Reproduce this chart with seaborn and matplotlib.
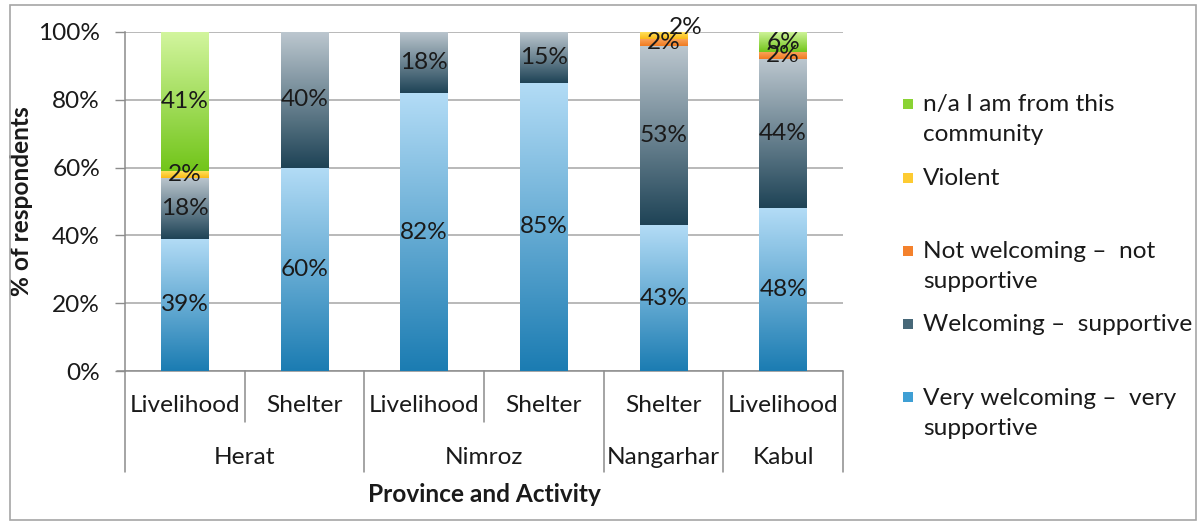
import numpy as np
import pandas as pd
import matplotlib
matplotlib.use("Agg")
import matplotlib.pyplot as plt
import matplotlib.transforms as mtransforms
from matplotlib.patches import Rectangle
from matplotlib.colors import LinearSegmentedColormap
import seaborn as sns

# ---- data -------------------------------------------------------------
provinces = ["Herat", "Herat", "Nimroz", "Nimroz", "Nangarhar", "Kabul"]
activities = ["Livelihood", "Shelter", "Livelihood", "Shelter", "Shelter", "Livelihood"]

very_welcoming = [39, 60, 82, 85, 43, 48]
welcoming = [18, 40, 18, 15, 53, 44]
not_welcoming = [0, 0, 0, 0, 2, 2]
violent = [2, 0, 0, 0, 2, 0]
from_community = [41, 0, 0, 0, 0, 6]

series_names = [
    "Very welcoming \u2013  very\nsupportive",
    "Welcoming \u2013  supportive",
    "Not welcoming \u2013  not\nsupportive",
    "Violent",
    "n/a I am from this\ncommunity",
]
series_values = [very_welcoming, welcoming, not_welcoming, violent, from_community]

# top / bottom colours of each gradient fill
grad_colors = [
    ("#b3dcf6", "#1b7cb2"),
    ("#bcc7cf", "#1e4356"),
    ("#f9a259", "#f07a20"),
    ("#ffe15a", "#fbb917"),
    ("#d2f59e", "#72c51a"),
]
swatch_colors = ["#3f9fd4", "#476878", "#f4812c", "#fdcb32", "#8ad334"]

# ---- style ------------------------------------------------------------
sns.set_theme(style="white")
plt.rcParams["font.family"] = ["Lato", "DejaVu Sans"]
FS = 17.6
TXT = "#1a1a1a"

fig = plt.figure(figsize=(12.03, 5.24), dpi=100)
ax = fig.add_axes([125 / 1203, 1 - 371 / 524, (843 - 125) / 1203, (371 - 32) / 524])

keys = [f"{p} {a}" for p, a in zip(provinces, activities)]
bottoms = np.zeros(len(keys))
drawn = []
for name, vals, (c_top, c_bot) in zip(series_names, series_values, grad_colors):
    vals = np.asarray(vals, dtype=float)
    df = pd.DataFrame({"key": keys, "value": vals})
    n_before = len(ax.patches)
    sns.barplot(data=df, x="key", y="value", bottom=bottoms, width=0.4,
                color=c_bot, saturation=1, linewidth=0, ax=ax, zorder=3)
    new_patches = ax.patches[n_before:]
    drawn.append((vals, bottoms.copy(), new_patches, c_top, c_bot))
    bottoms = bottoms + vals

# vertical gradient inside each bar segment
for vals, bots, patches, c_top, c_bot in drawn:
    cmap = LinearSegmentedColormap.from_list("g", [c_bot, c_top])
    grad = np.linspace(0, 1, 256).reshape(-1, 1)
    for v, p in zip(vals, patches):
        if v <= 0:
            continue
        x0, y0 = p.get_x(), p.get_y()
        w, h = p.get_width(), p.get_height()
        im = ax.imshow(grad, cmap=cmap, origin="lower", aspect="auto",
                       extent=(x0, x0 + w, y0, y0 + h), zorder=4,
                       interpolation="bilinear")
        im.set_clip_path(p)
ax.set_xlim(-0.5, len(keys) - 0.5)
ax.set_ylim(0, 100)

# value labels centred in each segment
for si, (vals, bots, patches, c_top, c_bot) in enumerate(drawn):
    for i, (v, b) in enumerate(zip(vals, bots)):
        if v <= 0:
            continue
        dx, dy = 0, 0
        if si == 3 and provinces[i] == "Nangarhar":
            dx, dy = 22, 8
        ax.annotate(f"{v:.0f}%", (i, b + v / 2), xytext=(dx, dy),
                    textcoords="offset pixels", ha="center", va="center",
                    fontsize=FS, color=TXT, zorder=6)

# axes styling
ax.set_yticks(np.arange(0, 101, 20))
ax.set_yticklabels([f"{t}%" for t in range(0, 101, 20)], fontsize=FS, color=TXT)
ax.yaxis.grid(True, color="#a6a6a6", linewidth=1.1, zorder=0)
ax.set_axisbelow(True)
ax.tick_params(axis="y", which="major", left=True, length=7, width=1,
               color="#8c8c8c", pad=11)
ax.set_xticks([])
ax.set_xlabel("")
ax.set_ylabel("% of respondents", fontsize=FS, fontweight="bold", color=TXT)
ax.yaxis.set_label_coords(-0.128, 0.5)
for s in ["top", "right", "bottom"]:
    ax.spines[s].set_visible(False)
ax.spines["left"].set_color("#8c8c8c")
ax.spines["left"].set_linewidth(1.1)

# two-level category axis below the plot
trans = mtransforms.blended_transform_factory(ax.transData, fig.transFigure)
fy = lambda py: 1 - py / 524
line_kw = dict(color="#8c8c8c", linewidth=1.1, transform=trans, clip_on=False)
ax.plot([-0.5, len(keys) - 0.5], [fy(371), fy(371)], **line_kw)
ax.plot([-0.5 - 0.065, -0.5], [fy(371), fy(371)], **line_kw)

group_edges = [0]
for i in range(1, len(keys)):
    if provinces[i] != provinces[i - 1]:
        group_edges.append(i)
group_edges.append(len(keys))

for i in range(len(keys) + 1):
    is_group = i in group_edges
    ax.plot([i - 0.5, i - 0.5], [fy(371), fy(472 if is_group else 422)], **line_kw)

for i, a in enumerate(activities):
    ax.text(i, fy(406), a, transform=trans, ha="center", va="center",
            fontsize=FS, color=TXT)
for g0, g1 in zip(group_edges[:-1], group_edges[1:]):
    ax.text((g0 + g1 - 1) / 2, fy(458), provinces[g0], transform=trans,
            ha="center", va="center", fontsize=FS, color=TXT)

fig.text(484 / 1203, fy(495), "Province and Activity", ha="center", va="center",
         fontsize=FS, fontweight="bold", color=TXT)

# legend
legend_rows = [
    (4, 107, 104),
    (3, 181, 178),
    (2, 254, 251),
    (1, 327, 324),
    (0, 401, 397),
]
for si, ty, sy in legend_rows:
    fig.patches.append(Rectangle((903 / 1203, fy(sy + 5)), 10 / 1203, 10 / 524,
                                 transform=fig.transFigure,
                                 facecolor=swatch_colors[si], edgecolor="none"))
    fig.text(923 / 1203, fy(ty - 13), series_names[si], ha="left", va="top",
             fontsize=FS, color=TXT, linespacing=1.55)

# chart border
fig.patches.append(Rectangle((10 / 1203, fy(520)), 1186 / 1203, 515 / 524,
                             transform=fig.transFigure, facecolor="none",
                             edgecolor="#a6a6a6", linewidth=1.2))

fig.savefig("out.png", dpi=100, facecolor="white")
